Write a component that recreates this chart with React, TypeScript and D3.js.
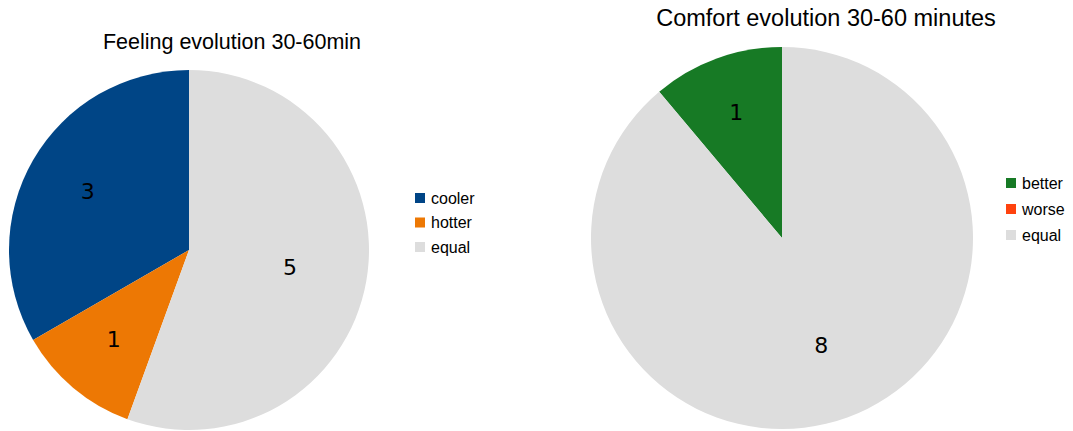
import React from "react";
import * as d3 from "d3";

const feelingCategories = ["cooler", "hotter", "equal"];
const feelingValues = [3, 1, 5];
const feelingColors = ["#004586", "#ed7804", "#dddddd"];

const comfortCategories = ["better", "worse", "equal"];
const comfortValues = [1, 0, 8];
const comfortColors = ["#177a25", "#ff420e", "#dddddd"];

type PieProps = {
  title: string;
  titleSize: number;
  cats: string[];
  vals: number[];
  colors: string[];
  cx: number;
  cy: number;
  r: number;
  titleX: number;
  titleY: number;
  legendX: number;
  legendY: number;
  legendStep: number;
  smallLabelR: number;
  largeLabelR: number;
};

function Pie(p: PieProps) {
  const total = d3.sum(p.vals);
  const pie = d3
    .pie<number>()
    .sort(null)
    .startAngle(0)
    .endAngle(-2 * Math.PI)
    .value((d) => d);
  const arcs = pie(p.vals);
  const arc = d3.arc<d3.PieArcDatum<number>>().innerRadius(0).outerRadius(p.r);
  return (
    <g>
      <text
        x={p.titleX}
        y={p.titleY}
        textAnchor="middle"
        fontFamily="'Liberation Sans', Arial, sans-serif"
        fontSize={p.titleSize}
        fill="#000"
      >
        {p.title}
      </text>
      <g transform={`translate(${p.cx},${p.cy})`}>
        {arcs.map((a, i) =>
          a.value > 0 ? <path key={i} d={arc(a) || ""} fill={p.colors[i]} /> : null
        )}
        {arcs.map((a, i) => {
          if (a.value <= 0) return null;
          const frac = a.value / total;
          const lr = p.r * (frac > 0.5 ? p.largeLabelR : p.smallLabelR);
          const [x, y] = d3
            .arc<d3.PieArcDatum<number>>()
            .innerRadius(lr)
            .outerRadius(lr)
            .centroid(a);
          return (
            <text
              key={"l" + i}
              x={x}
              y={y}
              textAnchor="middle"
              dominantBaseline="central"
              fontFamily="'DejaVu Sans', sans-serif"
              fontSize={22}
              fill="#000"
            >
              {a.value}
            </text>
          );
        })}
      </g>
      {p.cats.map((c, i) => (
        <g key={c} transform={`translate(${p.legendX},${p.legendY + i * p.legendStep})`}>
          <rect x={0} y={-5} width={10} height={10} fill={p.colors[i]} />
          <text
            x={16}
            y={0}
            dominantBaseline="central"
            fontFamily="'Liberation Sans', Arial, sans-serif"
            fontSize={16}
            fill="#000"
          >
            {c}
          </text>
        </g>
      ))}
    </g>
  );
}

export default function App() {
  return (
    <svg
      width={1073}
      height={431}
      style={{ position: "absolute", left: 0, top: 0, background: "#fff" }}
    >
      <Pie
        title="Feeling evolution 30-60min"
        titleSize={21.5}
        cats={feelingCategories}
        vals={feelingValues}
        colors={feelingColors}
        cx={189}
        cy={250}
        r={180}
        titleX={232}
        titleY={49}
        legendX={415}
        legendY={198}
        legendStep={24.5}
        smallLabelR={0.65}
        largeLabelR={0.57}
      />
      <Pie
        title="Comfort evolution 30-60 minutes"
        titleSize={23.5}
        cats={comfortCategories}
        vals={comfortValues}
        colors={comfortColors}
        cx={782}
        cy={238}
        r={191}
        titleX={826}
        titleY={26}
        legendX={1006}
        legendY={183}
        legendStep={26}
        smallLabelR={0.7}
        largeLabelR={0.6}
      />
    </svg>
  );
}
